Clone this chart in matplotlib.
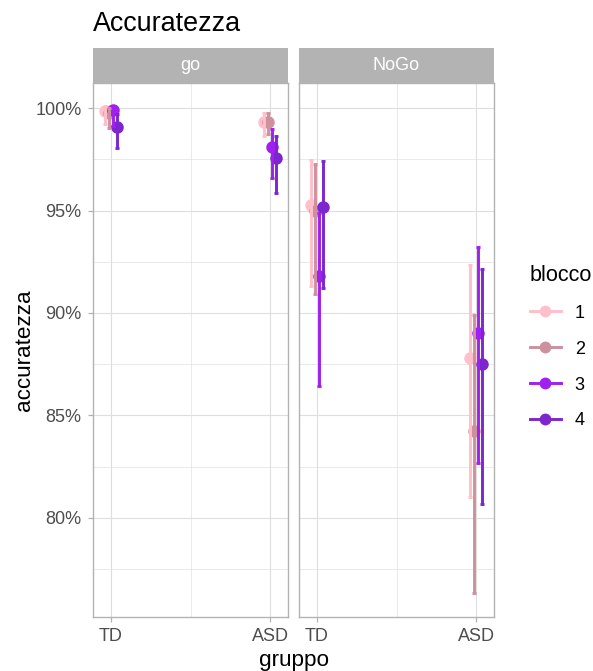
import matplotlib
matplotlib.use('Agg')
import matplotlib.pyplot as plt
from matplotlib.lines import Line2D
from matplotlib.ticker import FixedLocator
import numpy as np

plt.rcParams['font.family'] = ['Liberation Sans', 'DejaVu Sans']

# ---------------- data ----------------
gruppi = ['TD', 'ASD']
blocchi = ['1', '2', '3', '4']
colori = ['#FFC0CB', '#CD919E', '#A020F0', '#7D26CD']
pannelli = ['go', 'NoGo']

# mean accuracy (%) per blocco, for [TD, ASD]
go_mean = [[99.85, 99.32], [99.76, 99.32], [99.90, 98.10], [99.08, 97.57]]
go_low = [[99.22, 98.64], [99.03, 98.73], [99.12, 96.60], [98.05, 95.86]]
go_high = [[100.10, 99.76], [100.00, 99.76], [100.10, 98.98], [99.70, 98.64]]

nogo_mean = [[95.28, 87.79], [95.00, 84.23], [91.82, 89.00], [95.18, 87.49]]
nogo_low = [[91.34, 81.02], [90.95, 76.35], [86.45, 82.68], [91.24, 80.68]]
nogo_high = [[97.47, 92.36], [97.27, 89.88], [94.90, 93.24], [97.42, 92.17]]

y_ticks = [80, 85, 90, 95, 100]
y_ticklabels = ['80%', '85%', '90%', '95%', '100%']

# ---------------- layout ----------------
W, H = 593, 671
fig = plt.figure(figsize=(W / 100, H / 100), dpi=100)


def px_axes(x0, y0, x1, y1):
    return fig.add_axes([x0 / W, 1 - y1 / H, (x1 - x0) / W, (y1 - y0) / H])


panel_x = [(93, 288), (299, 494)]
panel_top, panel_bot = 83, 617
strip_top = 48

data = {
    'go': (go_mean, go_low, go_high),
    'NoGo': (nogo_mean, nogo_low, nogo_high),
}

dodge = 0.025
GRID = '#DEDEDE'
BORDER = '#B3B3B3'

for p, (x0, x1) in zip(pannelli, panel_x):
    ax = px_axes(x0, panel_top, x1, panel_bot)
    means, lows, highs = data[p]
    base = np.arange(1, len(gruppi) + 1)
    for i, (b, col) in enumerate(zip(blocchi, colori)):
        xs = base + (i - 1.5) * dodge
        m = np.array(means[i]); lo = np.array(lows[i]); hi = np.array(highs[i])
        ax.errorbar(xs, m, yerr=[m - lo, hi - m], fmt='none', ecolor=col,
                    elinewidth=2.1, capsize=1.4, capthick=2.1, zorder=3)
        ax.plot(xs, m, 'o', color=col, ms=9.0, mec='none', zorder=2)

    ax.set_xlim(0.89, 2.11)
    ax.set_ylim(75.17, 101.22)
    ax.set_xticks(base)
    ax.set_xticklabels(gruppi)
    ax.xaxis.set_minor_locator(FixedLocator([1.5]))
    ax.set_yticks(y_ticks)
    ax.yaxis.set_minor_locator(FixedLocator([77.5, 82.5, 87.5, 92.5, 97.5]))
    ax.grid(True, which='major', color=GRID, lw=0.8)
    ax.grid(True, which='minor', color=GRID, lw=0.45)
    ax.set_axisbelow(True)
    for s in ax.spines.values():
        s.set_color(BORDER)
        s.set_linewidth(1.0)
    ax.tick_params(axis='both', which='major', color=BORDER, length=3.6, width=0.9,
                   labelcolor='#4D4D4D', labelsize=13, pad=4.5)
    ax.tick_params(axis='both', which='minor', length=0)
    if p == 'go':
        ax.set_yticklabels(y_ticklabels)
    else:
        ax.tick_params(axis='y', which='major', length=0, labelleft=False)

    sax = px_axes(x0, strip_top, x1, panel_top)
    sax.set_facecolor('#B3B3B3')
    sax.set_xticks([]); sax.set_yticks([])
    for s in sax.spines.values():
        s.set_visible(False)
    sax.text(0.5, 0.5, p, color='white', fontsize=13, ha='center', va='center',
             transform=sax.transAxes)

# titles
fig.text(93 / W, 1 - 31 / H, 'Accuratezza', fontsize=19.4, ha='left', va='baseline')
fig.text(25 / W, 1 - 350 / H, 'accuratezza', fontsize=16.2, rotation=90,
         ha='center', va='center')
fig.text(294 / W, 1 - 666 / H, 'gruppo', fontsize=16.2, ha='center', va='baseline')

# legend
handles = [Line2D([0], [0], color=c, lw=2.1, marker='o', ms=8.5, mec='none') for c in colori]
leg = fig.legend(handles, blocchi, title='blocco', loc='upper left',
                 bbox_to_anchor=(517 / W, 1 - 252 / H), frameon=False,
                 fontsize=13, title_fontsize=15.6, handlelength=1.75,
                 handletextpad=0.75, labelspacing=1.05, alignment='left',
                 borderpad=0.2)

fig.savefig('out.png', dpi=100)
